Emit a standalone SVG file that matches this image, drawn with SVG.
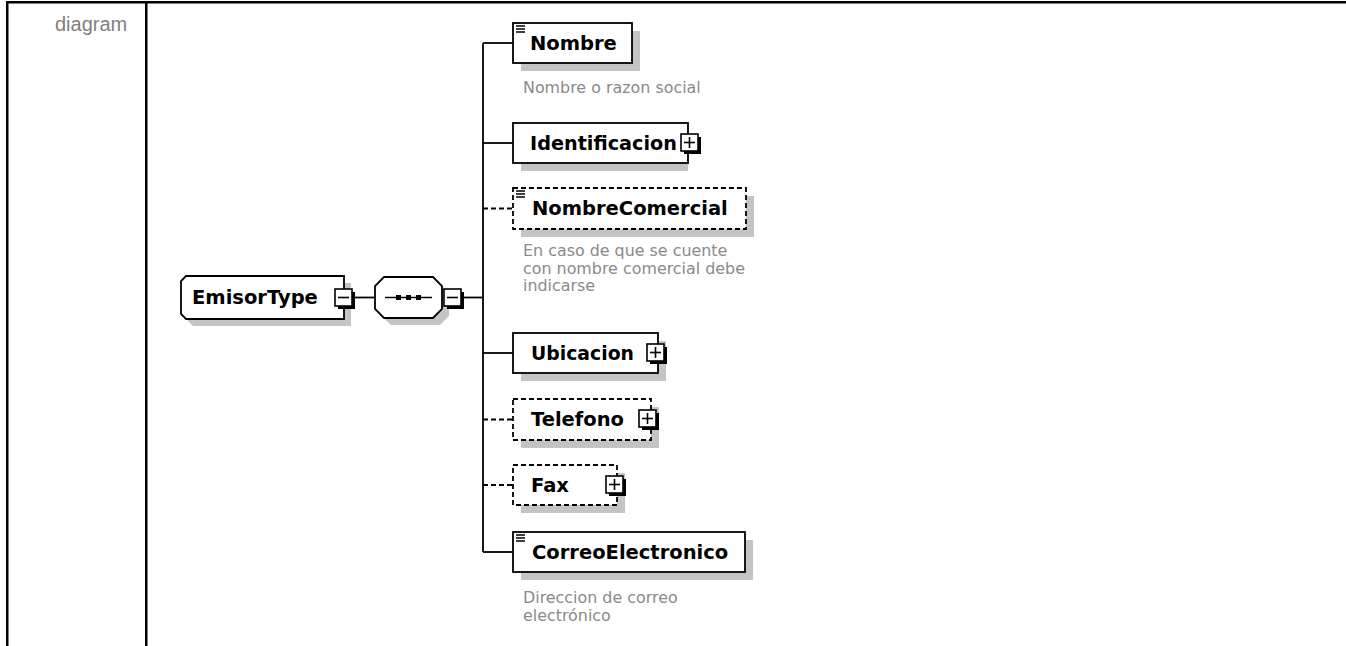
<svg xmlns="http://www.w3.org/2000/svg" width="1346" height="646" viewBox="0 0 1346 646">
<style>
.lbl{font-family:"DejaVu Sans",Verdana,sans-serif;font-weight:bold;font-size:19.5px;fill:#000}
.desc{font-family:"DejaVu Sans",Verdana,sans-serif;font-size:15.9px;fill:#8a8a8a}
.box{fill:#fff;stroke:#000;stroke-width:1.8}
.dbox{fill:#fff;stroke:#000;stroke-width:1.8;stroke-dasharray:5 3}
.shadow{fill:#c4c4c4}
.conn{fill:none;stroke:#000;stroke-width:1.8}
.dconn{fill:none;stroke:#000;stroke-width:1.8;stroke-dasharray:5 3}
.icon{stroke:#000;stroke-width:1.5}
</style>
<defs>
<g id="plus">
<rect x="3" y="3" width="17" height="17" fill="#000"/>
<rect x="0" y="0" width="17" height="17" fill="#fff" stroke="#000" stroke-width="1.6"/>
<line x1="3" y1="8.5" x2="14" y2="8.5" stroke="#000" stroke-width="1.6"/>
<line x1="8.5" y1="3" x2="8.5" y2="14" stroke="#000" stroke-width="1.6"/>
</g>
<g id="minus">
<rect x="3" y="3" width="17" height="17" fill="#000"/>
<rect x="0" y="0" width="17" height="17" fill="#fff" stroke="#000" stroke-width="1.6"/>
<line x1="3" y1="8.5" x2="14" y2="8.5" stroke="#000" stroke-width="1.6"/>
</g>
<g id="doc">
<line x1="516" y1="0" x2="525" y2="0" class="icon"/>
<line x1="516" y1="3" x2="525" y2="3" class="icon"/>
<line x1="516" y1="6" x2="525" y2="6" class="icon"/>
</g>
</defs>

<g id="table">
<rect x="6" y="1" width="1340" height="2.5" fill="#000"/>
<rect x="6" y="1" width="2.5" height="645" fill="#000"/>
<rect x="145" y="1" width="2.5" height="645" fill="#000"/>
<text x="55" y="31" style="font-family:'Liberation Sans',Arial,sans-serif;font-size:20px;fill:#808080">diagram</text>
</g>

<g id="connectors">
<line x1="355" y1="297.5" x2="375" y2="297.5" class="conn"/>
<line x1="464" y1="297.5" x2="483" y2="297.5" class="conn"/>
<line x1="483" y1="43" x2="483" y2="552" class="conn"/>
<line x1="483" y1="43" x2="513" y2="43" class="conn"/>
<line x1="483" y1="143" x2="513" y2="143" class="conn"/>
<line x1="483" y1="208.5" x2="513" y2="208.5" class="dconn"/>
<line x1="483" y1="353" x2="513" y2="353" class="conn"/>
<line x1="483" y1="419.5" x2="513" y2="419.5" class="dconn"/>
<line x1="483" y1="485" x2="513" y2="485" class="dconn"/>
<line x1="483" y1="552" x2="513" y2="552" class="conn"/>
</g>

<g id="EmisorType">
<path class="shadow" d="M193,283 L351,283 L351,326 L193,326 L188,321 L188,288 Z"/>
<path class="box" d="M186,276 L344,276 L344,319 L186,319 L181,314 L181,281 Z"/>
<text class="lbl" x="192" y="303.5">EmisorType</text>
<use href="#minus" x="335" y="289"/>
</g>

<g id="sequence">
<path class="shadow" d="M391,284 L440,284 L449,293 L449,316 L440,325 L391,325 L382,316 L382,293 Z"/>
<path class="box" d="M384,277 L433,277 L442,286 L442,309 L433,318 L384,318 L375,309 L375,286 Z"/>
<line x1="385" y1="297.5" x2="432" y2="297.5" stroke="#000" stroke-width="1.5"/>
<rect x="396" y="295" width="5" height="5" fill="#000"/>
<rect x="406" y="295" width="5" height="5" fill="#000"/>
<rect x="416" y="295" width="5" height="5" fill="#000"/>
<use href="#minus" x="444" y="289"/>
</g>

<g id="Nombre">
<rect class="shadow" x="521" y="31" width="119" height="40"/>
<rect class="box" x="513" y="23" width="119" height="40"/>
<use href="#doc" x="0" y="26"/>
<text class="lbl" x="530" y="49.5">Nombre</text>
<text class="desc" x="523" y="93">Nombre o razon social</text>
</g>

<g id="Identificacion">
<rect class="shadow" x="521" y="131" width="167" height="40"/>
<rect class="box" x="513" y="123" width="175" height="40"/>
<text class="lbl" x="530" y="149.5" textLength="147" lengthAdjust="spacingAndGlyphs">Identificacion</text>
<use href="#plus" x="681" y="134"/>
</g>

<g id="NombreComercial">
<rect class="shadow" x="521" y="196" width="233" height="41"/>
<rect class="dbox" x="513" y="188" width="233" height="41"/>
<use href="#doc" x="0" y="191"/>
<text class="lbl" x="532" y="215">NombreComercial</text>
<text class="desc" x="523" y="256">En caso de que se cuente</text>
<text class="desc" x="523" y="273.5">con nombre comercial debe</text>
<text class="desc" x="523" y="291">indicarse</text>
</g>

<g id="Ubicacion">
<rect class="shadow" x="521" y="341" width="145" height="40"/>
<rect class="box" x="513" y="333" width="145" height="40"/>
<text class="lbl" x="531" y="359.5" textLength="103" lengthAdjust="spacingAndGlyphs">Ubicacion</text>
<use href="#plus" x="647" y="344"/>
</g>

<g id="Telefono">
<rect class="shadow" x="521" y="407" width="138" height="41"/>
<rect class="dbox" x="513" y="399" width="138" height="41"/>
<text class="lbl" x="531" y="426">Telefono</text>
<use href="#plus" x="639" y="410"/>
</g>

<g id="Fax">
<rect class="shadow" x="521" y="473" width="104" height="40"/>
<rect class="dbox" x="513" y="465" width="104" height="40"/>
<text class="lbl" x="531" y="491.5">Fax</text>
<use href="#plus" x="606" y="476"/>
</g>

<g id="CorreoElectronico">
<rect class="shadow" x="521" y="540" width="232" height="40"/>
<rect class="box" x="513" y="532" width="232" height="40"/>
<use href="#doc" x="0" y="535"/>
<text class="lbl" x="532" y="558.5">CorreoElectronico</text>
<text class="desc" x="523" y="603">Direccion de correo</text>
<text class="desc" x="523" y="621">electrónico</text>
</g>
</svg>
